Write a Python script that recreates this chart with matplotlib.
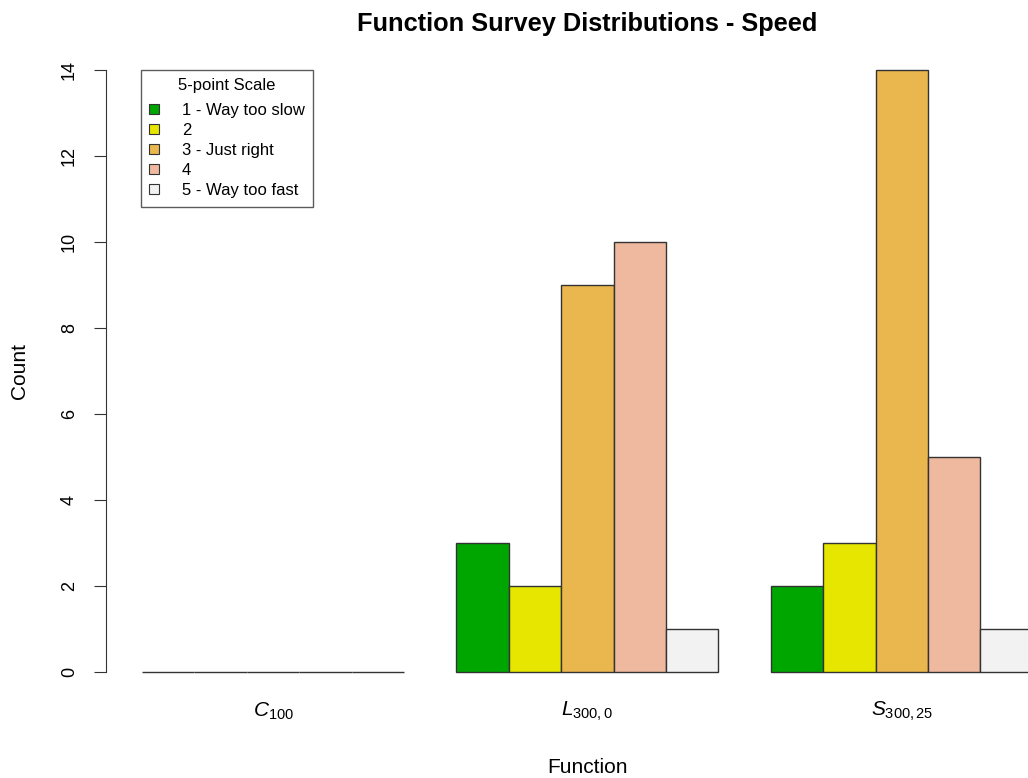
import matplotlib
matplotlib.use("Agg")
import matplotlib.pyplot as plt
import numpy as np
from matplotlib.patches import Patch

plt.rcParams['font.family'] = ['Liberation Sans', 'DejaVu Sans']
plt.rcParams['mathtext.fontset'] = 'custom'
plt.rcParams['mathtext.rm'] = 'Liberation Sans'
plt.rcParams['mathtext.it'] = 'Liberation Sans:italic'

functions = [r'$\mathit{C}_{\mathrm{100}}$', r'$\mathit{L}_{\mathrm{300,0}}$', r'$\mathit{S}_{\mathrm{300,25}}$']
scale_labels = ['1 - Way too slow', '2', '3 - Just right', '4', '5 - Way too fast']
colors = ['#00A600', '#E6E600', '#EAB64E', '#EEB99F', '#F2F2F2']
# counts[function][scale level]
counts = [
    [0, 0, 0, 0, 0],
    [3, 2, 9, 10, 1],
    [2, 3, 14, 5, 1],
]

W, H = 1028, 778
fig = plt.figure(figsize=(W / 100, H / 100), dpi=100)

# plot region in pixels (R style, runs past the right edge)
px_per_y = 43.0
y0_px = 672
y_lo, y_hi = -0.56, 14.56
left_px, right_px = 106.4, 1068.4
bot_px = y0_px - y_lo * px_per_y
top_px = y0_px - y_hi * px_per_y
ax = fig.add_axes([left_px / W, 1 - bot_px / H,
                   (right_px - left_px) / W, (bot_px - top_px) / H])

n_levels = len(scale_labels)
centers = []
for g, row in enumerate(counts):
    start = 1 + g * (n_levels + 1)
    xs = start + np.arange(n_levels) + 0.5
    centers.append(start + n_levels / 2)
    ax.bar(xs, row, width=1.0, color=colors, edgecolor='#333333', linewidth=1.0)

ax.set_xlim(0.32, 18.68)
ax.set_ylim(y_lo, y_hi)

for s in ['top', 'right', 'bottom']:
    ax.spines[s].set_visible(False)
ax.spines['left'].set_bounds(0, 14)
ax.spines['left'].set_color('#333333')
ax.set_yticks(range(0, 15, 2))
ax.tick_params(axis='y', labelsize=13, length=8.5, color='#333333', pad=12)
for lab in ax.get_yticklabels():
    lab.set_rotation(90)
    lab.set_verticalalignment('center')
ax.set_xticks(centers)
ax.set_xticklabels(functions, fontsize=15)
ax.tick_params(axis='x', length=0, pad=3)

ax.set_title('Function Survey Distributions - Speed', fontsize=18.3, fontweight='bold', pad=11)
ax.set_xlabel('Function', fontsize=15, labelpad=25)
ax.set_ylabel('Count', fontsize=15, labelpad=23)

handles = [Patch(facecolor=c, edgecolor='#333333', linewidth=0.8) for c in colors]
leg = ax.legend(handles, scale_labels, title='5-point Scale', loc='upper left',
                bbox_to_anchor=((141 - left_px) / (right_px - left_px), (bot_px - 70) / (bot_px - top_px)),
                fontsize=12, title_fontsize=12, frameon=True, fancybox=False,
                edgecolor='#333333', handlelength=0.55, handleheight=0.55,
                handletextpad=1.4, labelspacing=0.3, borderpad=0.5, borderaxespad=0)
leg.get_frame().set_linewidth(1.0)
leg._legend_box.sep = 7.2  # extra room under the legend title

fig.savefig('out.png', dpi=100)
